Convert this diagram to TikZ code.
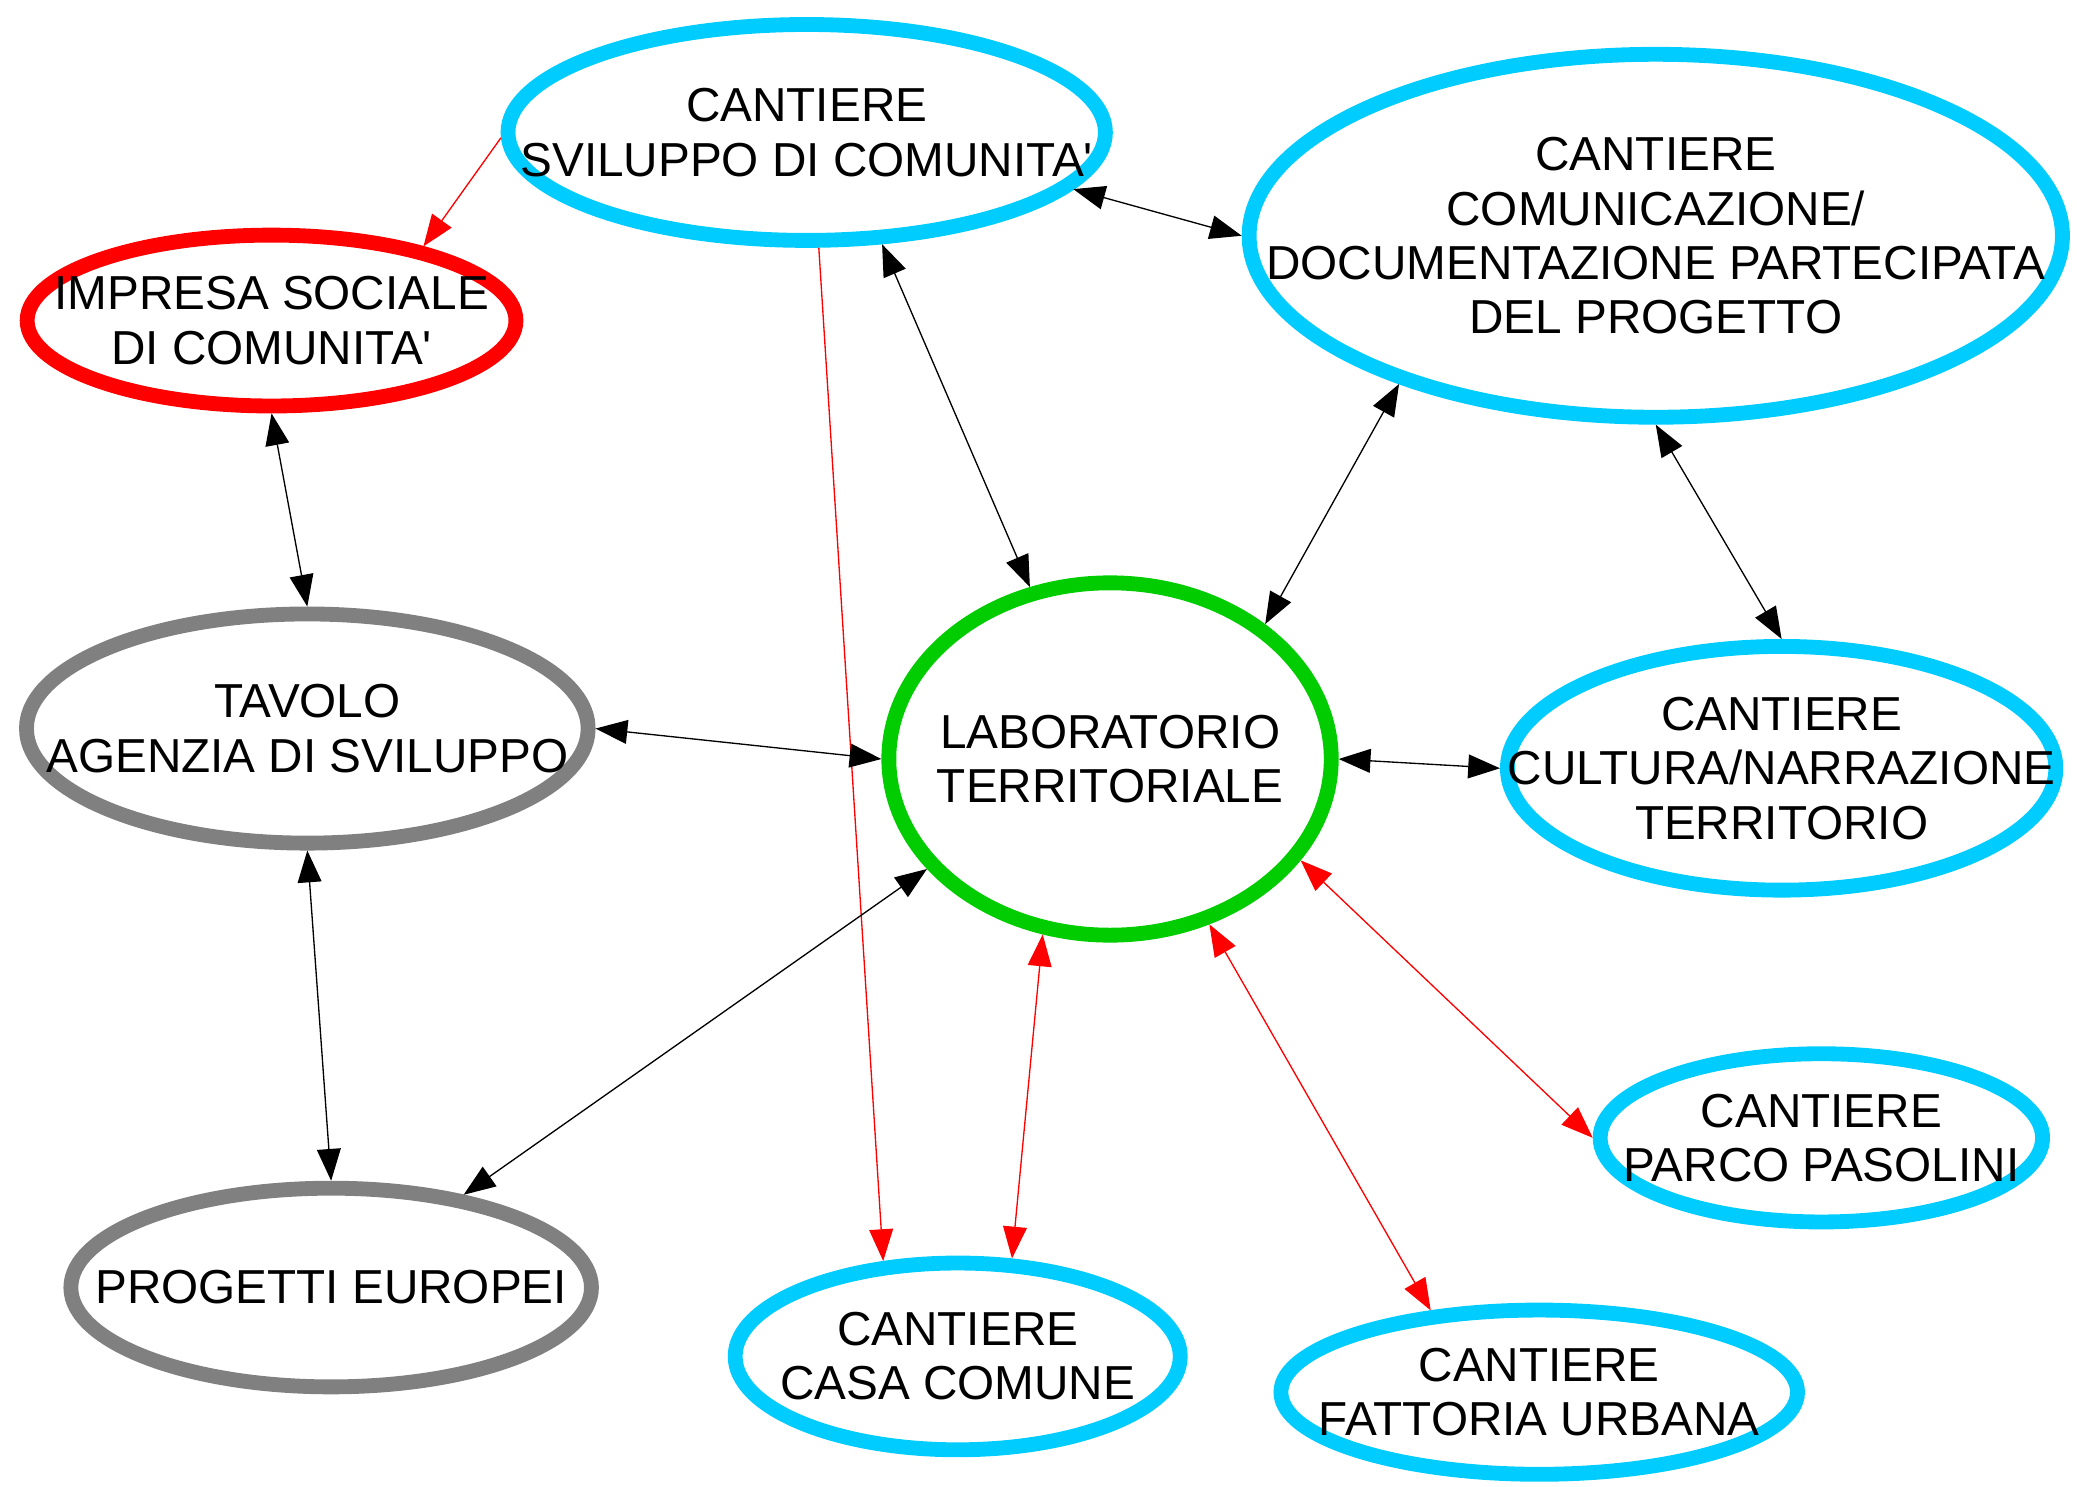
\documentclass[tikz,border=0pt]{standalone}
\usepackage{fontspec}
\setmainfont{Liberation Sans}[Ligatures=TeXOff]
\usetikzlibrary{shapes,
                arrows.meta}
\definecolor{cantiereblue}{RGB}{0,204,255}
\definecolor{labgreen}{RGB}{0,204,0}
\definecolor{tavologray}{RGB}{128,128,128}
\tikzset{oval/.style =
   {ellipse,
    draw,
    line width=5.6pt,
    inner sep=-150pt,
    text centered,
    align=center,
    font=\fontsize{18}{20.5}\selectfont}}
\tikzset{link/.style = {draw, line width=0.5pt, black}}
\tikzset{redlink/.style = {draw, line width=0.5pt, red}}
\tikzset{>={Triangle[length=12pt,width=9pt]}}

\begin{document}
\begin{tikzpicture}[x=0.5pt, y=-0.5pt]

    \useasboundingbox (0,0) rectangle (1568,1122);

    \node [oval,
           draw=cantiereblue,
           minimum width=225.5pt,
           minimum height=81.5pt] (svil) at (609,100)
    {CANTIERE\\SVILUPPO DI COMUNITA'};

    \node [oval,
           draw=cantiereblue,
           minimum width=307pt,
           minimum height=137pt] (comun) at (1250,178)
    {CANTIERE\\COMUNICAZIONE/\\DOCUMENTAZIONE PARTECIPATA\\DEL PROGETTO};

    \node [oval,
           draw=red,
           minimum width=184.5pt,
           minimum height=64.5pt] (impresa) at (205,242)
    {IMPRESA SOCIALE\\DI COMUNITA'};

    \node [oval,
           draw=tavologray,
           minimum width=212pt,
           minimum height=86.5pt] (tavolo) at (232,550)
    {TAVOLO\\AGENZIA DI SVILUPPO};

    \node [oval,
           draw=labgreen,
           minimum width=167pt,
           minimum height=133pt] (lab) at (838,573)
    {LABORATORIO\\TERRITORIALE};

    \node [oval,
           draw=cantiereblue,
           minimum width=207pt,
           minimum height=92pt] (cultura) at (1345,580)
    {CANTIERE\\CULTURA/NARRAZIONE\\TERRITORIO};

    \node [oval,
           draw=cantiereblue,
           minimum width=167pt,
           minimum height=63.5pt] (parco) at (1375,859)
    {CANTIERE\\PARCO PASOLINI};

    \node [oval,
           draw=tavologray,
           minimum width=196.5pt,
           minimum height=75pt] (progetti) at (250,972)
    {PROGETTI EUROPEI};

    \node [oval,
           draw=cantiereblue,
           minimum width=168pt,
           minimum height=70.5pt] (casa) at (723,1024)
    {CANTIERE\\CASA COMUNE};

    \node [oval,
           draw=cantiereblue,
           minimum width=195pt,
           minimum height=62pt] (fattoria) at (1162,1051)
    {CANTIERE\\FATTORIA URBANA};

    % red links
    \draw [redlink, ->] (svil.181) -- (impresa.26);
    \draw [redlink, ->] (svil.276) -- (casa.128);
    \draw [redlink, <->] (lab.249) -- (casa.61);
    \draw [redlink, <->] (lab.301) -- (fattoria.143);
    \draw [redlink, <->] (lab.332) -- (parco.west);

    % black links
    \draw [link, <->] (svil.348) -- (comun.west);
    \draw [link, <->] (svil.304) -- (lab.115);
    \draw [link, <->] (comun.210) -- (lab.41);
    \draw [link, <->] (comun.south) -- (cultura.north);
    \draw [link, <->] (impresa.south) -- (tavolo.north);
    \draw [link, <->] (tavolo.east) -- (lab.west);
    \draw [link, <->] (lab.east) -- (cultura.west);
    \draw [link, <->] (tavolo.south) -- (progetti.north);
    \draw [link, <->] (lab.211) -- (progetti.35);

\end{tikzpicture}
\end{document}
